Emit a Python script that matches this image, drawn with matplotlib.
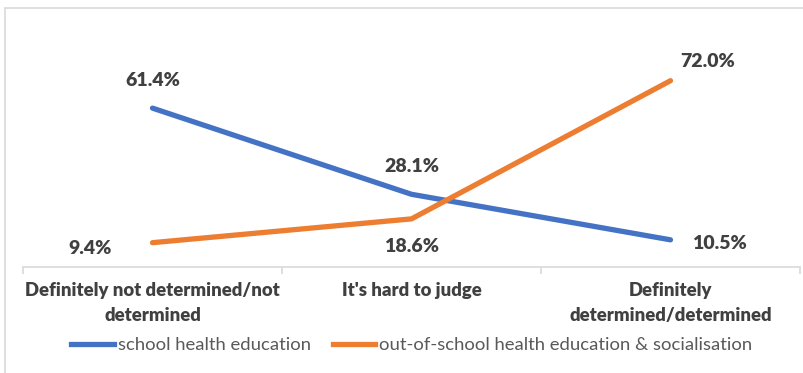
import matplotlib.pyplot as plt
from matplotlib.patches import Rectangle
from matplotlib.lines import Line2D

# data
categories = ["Definitely not determined/not\ndetermined", "It's hard to judge",
              "Definitely\ndetermined/determined"]
school = [61.4, 28.1, 10.5]
out_of_school = [9.4, 18.6, 72.0]
series_names = ["school health education", "out-of-school health education & socialisation"]

blue = "#4472C4"
orange = "#ED7D31"
txt = "#404040"
plt.rcParams['font.family'] = ['Lato', 'DejaVu Sans']

fig = plt.figure(figsize=(8.04, 3.73), dpi=100)
ax = fig.add_axes([23 / 804, 106 / 373, 777 / 804, 207 / 373])

x = range(len(categories))
ax.plot(x, school, color=blue, lw=3.8, solid_capstyle='round')
ax.plot(x, out_of_school, color=orange, lw=3.8, solid_capstyle='round')
ax.set_xlim(-0.5, 2.5)
ax.set_ylim(0, 80)

# data labels (offsets in points)
lbl_school = [(0, 20), (0, 20), (35, -3)]
lbl_out = [(-45, -4), (0, -20), (27, 14)]
for i, v in enumerate(school):
    ax.annotate(f"{v:.1f}%", (i, v), xytext=lbl_school[i], textcoords='offset points',
                ha='center', va='center', fontsize=14, fontweight='heavy', color=txt)
for i, v in enumerate(out_of_school):
    ax.annotate(f"{v:.1f}%", (i, v), xytext=lbl_out[i], textcoords='offset points',
                ha='center', va='center', fontsize=14, fontweight='heavy', color=txt)

# axes styling
for s in ['top', 'right', 'left']:
    ax.spines[s].set_visible(False)
ax.spines['bottom'].set_color('#D9D9D9')
ax.spines['bottom'].set_linewidth(1.2)
ax.set_yticks([])
ax.set_xticks([-0.5, 0.5, 1.5, 2.5], minor=False)
ax.set_xticklabels([])
ax.tick_params(axis='x', which='major', length=5, color='#D9D9D9', width=1.2)
ax.set_xticks(list(x), minor=True)
ax.set_xticklabels(categories, minor=True, fontsize=13.3, fontweight='heavy',
                   color=txt, linespacing=1.55)
ax.tick_params(axis='x', which='minor', length=0, pad=11)
for t in ax.get_xticklabels(minor=True):
    t.set_verticalalignment('top')

# legend
handles = [Line2D([], [], color=blue, lw=3.8), Line2D([], [], color=orange, lw=3.8)]
fig.legend(handles, series_names, loc='center', bbox_to_anchor=(0.512, 1 - 345 / 373),
           ncol=2, frameon=False, fontsize=13.3, labelcolor='#595959',
           handlelength=2.3, handletextpad=0.2, columnspacing=1.2)

# outer frame
fig.patches.append(Rectangle((5 / 804, -0.1), 1.2, 1.1 - 8 / 373,
                             transform=fig.transFigure, fill=False,
                             edgecolor='#D9D9D9', lw=1.2))

fig.savefig("out.png", dpi=100)
